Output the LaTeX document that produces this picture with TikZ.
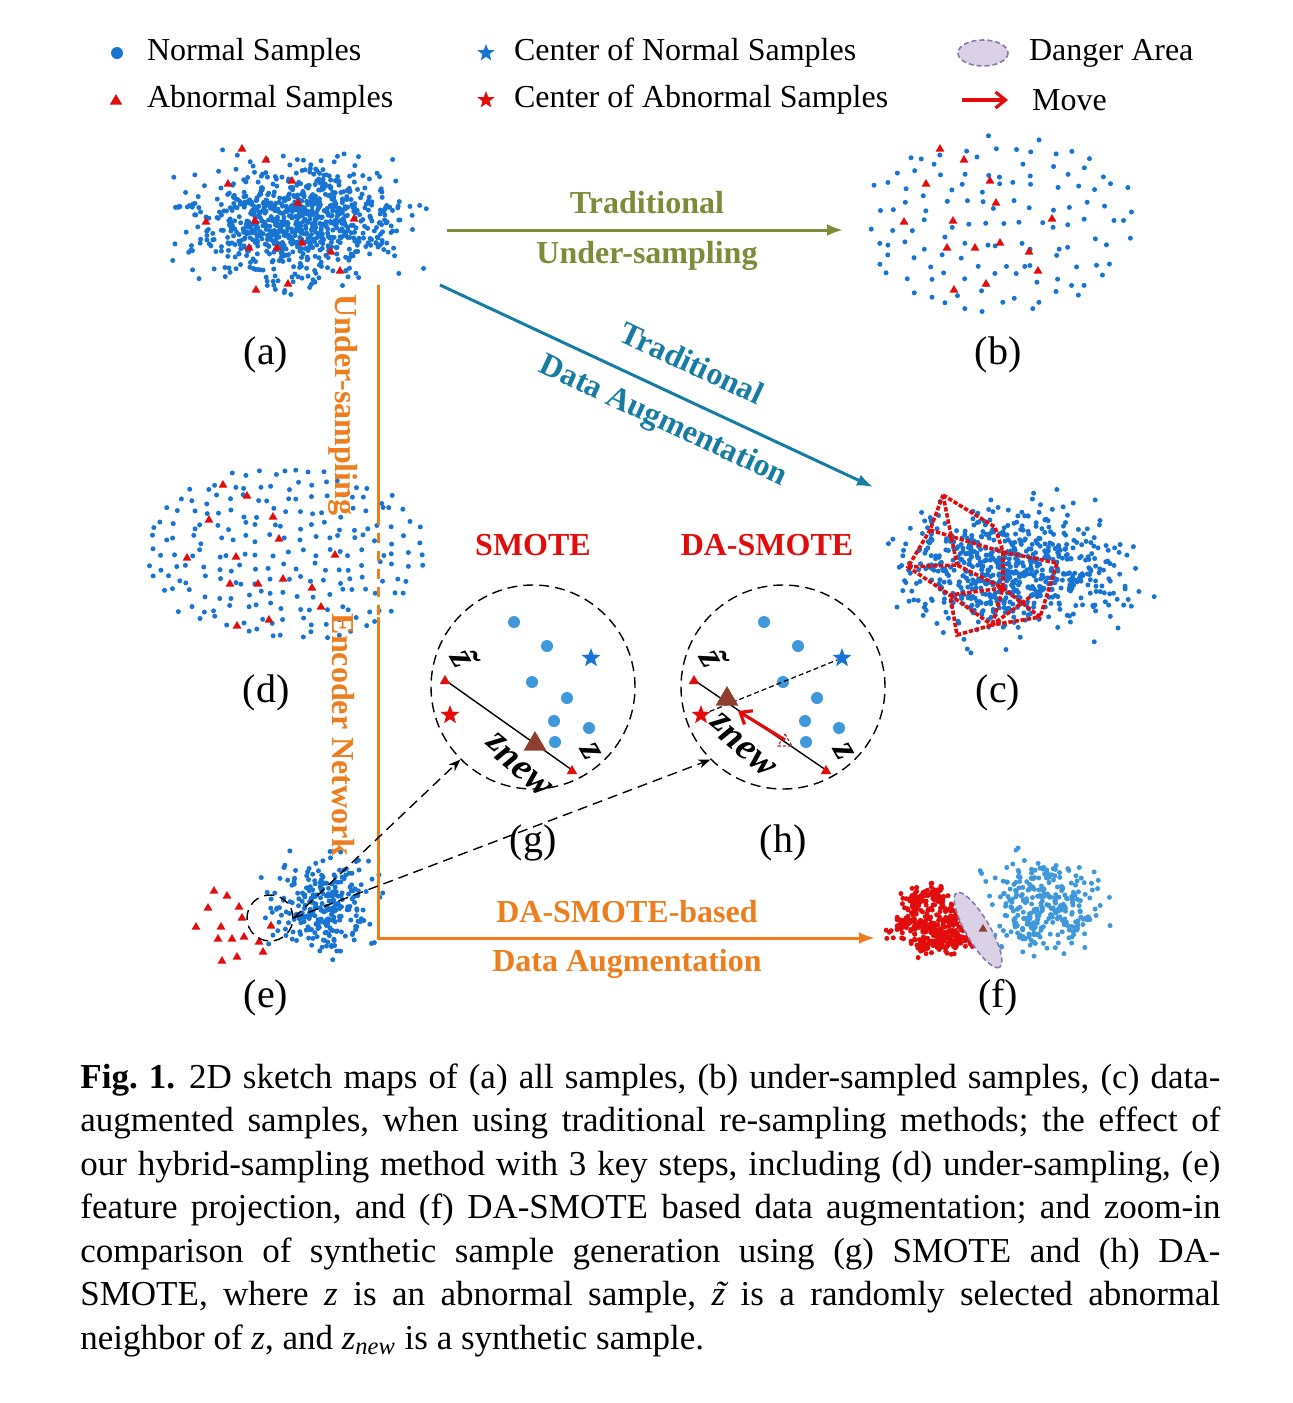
\documentclass[tikz,border=0pt]{standalone}
\usepackage{fontspec}
\setmainfont{Liberation Serif}
\usetikzlibrary{shapes.geometric,arrows.meta,positioning,calc}
\definecolor{nblue}{RGB}{24,116,210}
\definecolor{lblue}{RGB}{62,152,218}
\definecolor{abred}{RGB}{226,12,12}
\definecolor{znbrown}{RGB}{142,62,46}
\definecolor{arolive}{RGB}{124,140,56}
\definecolor{arteal}{RGB}{22,124,162}
\definecolor{arorange}{RGB}{236,126,30}
\definecolor{dgfill}{RGB}{218,209,231}
\definecolor{dgline}{RGB}{138,120,168}

% z with a tilde on top
\newcommand{\ztil}{\ooalign{z\cr\hidewidth\kern0.12em\char"02DC\hidewidth\cr}}
% gaussian-like cloud: cx, cy, sx, sy, count, colour
\newcommand{\gaussblob}[6]{%
  \foreach \k in {1,...,#5}{%
    \pgfmathsetmacro{\gx}{#1+#3*(rand+rand+rand)}%
    \pgfmathsetmacro{\gy}{#2+#4*(rand+rand+rand)}%
    \fill[#6] (\gx,\gy) circle[radius=1.25pt];}}
% sparse cloud, jittered grid cut to an ellipse: cx, cy, rx, ry, spacing, colour
\newcommand{\gridblob}[6]{%
  \foreach \gi in {-12,...,12}{\foreach \gj in {-12,...,12}{%
    \pgfmathsetmacro{\px}{\gi*#5+0.38*#5*rand}%
    \pgfmathsetmacro{\py}{\gj*#5+0.38*#5*rand}%
    \pgfmathtruncatemacro{\inside}{((\px/#3)^2+(\py/#4)^2<1)?1:0}%
    \ifnum\inside=1 \fill[#6] (#1+\px,#2+\py) circle[radius=1.25pt];\fi}}}
% triangle marker: x, y, size, style
\newcommand{\abtri}[4]{%
  \path[#4] (#1,#2) +(0,{-#3}) -- +({0.87*#3},{0.5*#3}) -- +({-0.87*#3},{0.5*#3}) -- cycle;}
% the abnormal samples kept in (a), (b) and (d)
\newcommand{\abnset}[2]{%
  \foreach \ax/\ay in {242/149,266/160,228/184,292/181,298/203,206/222,255/221,
      354/219,249/248,277/248,302/243,331/252,340/271,288/284,256/290}{%
    \abtri{#1+\ax}{#2+\ay}{5}{fill=abred}}}

\begin{document}
\begin{tikzpicture}[x=0.5pt,y=-0.5pt,
    legtxt/.style={anchor=west,font=\fontsize{16}{19}\selectfont},
    panel/.style={font=\fontsize{20}{24}\selectfont},
    boldlab/.style={font=\fontsize{16}{19}\selectfont\bfseries},
    nstar/.style={star,star points=5,star point ratio=2.4,fill=nblue,
                  inner sep=0pt,minimum size=9pt},
    astar/.style={nstar,fill=abred},
    zoomc/.style={circle,draw,dash pattern=on 5pt off 3pt,line width=0.7pt,
                  minimum size=102pt,inner sep=0pt},
    zlab/.style={font=\fontsize{19}{19}\selectfont\bfseries\itshape,inner sep=0pt},
    olarr/.style={-{Latex[length=8pt,width=6pt]},line width=1.5pt,draw=arolive},
    tlarr/.style={-{Latex[length=8pt,width=6pt]},line width=1.5pt,draw=arteal},
    orline/.style={line width=1.5pt,draw=arorange},
    zmarr/.style={-{Stealth[length=6pt,width=4.5pt]},dash pattern=on 5pt off 3pt,line width=0.7pt},
    mvarr/.style={-{Straight Barb[length=5pt,width=8pt]},line width=1.6pt,draw=abred},
    poly/.style={draw=abred,line width=1.8pt,dash pattern=on 2.2pt off 0.9pt},
    dgarea/.style={fill=dgfill,draw=dgline,dash pattern=on 2.5pt off 1.5pt,line width=0.8pt}
  ]
  \useasboundingbox[fill=white] (0,0) rectangle (1293,1403);
  \pgfmathsetseed{4711}

  % legend
  \fill[nblue] (117,53) circle[radius=3pt];
  \node[legtxt] (lgN) at (140,53) {Normal Samples};
  \abtri{116}{101}{7}{fill=abred}
  \node[legtxt] (lgA) at (140,100) {Abnormal Samples};
  \node[nstar] (lgNs) at (486,53) {};
  \node[legtxt] (lgNc) at (507,53) {Center of Normal Samples};
  \node[astar] (lgAs) at (486,100) {};
  \node[legtxt] (lgAc) at (507,100) {Center of Abnormal Samples};
  \path[dgarea] (983,53) ellipse[x radius=25,y radius=13];
  \node[legtxt] (lgD) at (1022,53) {Danger Area};
  \coordinate (mvS) at (962,100);
  \coordinate (mvE) at (1008,100);
  \draw[mvarr] (mvS) -- (mvE);
  \node[legtxt] (lgM) at (1025,100) {Move};

  % (a) all samples
  \gaussblob{298}{222}{48}{27}{900}{nblue}
  \abnset{0}{0}
  \node[panel] (pa) at (266,355) {(a)};

  % (b) under-sampled
  \gridblob{1000}{225}{140}{93}{18}{nblue}
  \abnset{698}{0}
  \node[panel] (pb) at (998,355) {(b)};

  % (d) hybrid under-sampling
  \gridblob{285}{553}{143}{90}{13.5}{nblue}
  \abnset{-19}{336}
  \node[panel] (pd) at (266,693) {(d)};

  % (c) traditional augmentation
  \gaussblob{1008}{568}{50}{29}{700}{nblue}
  \coordinate (cA) at (943,495);  \coordinate (cB) at (995,527);
  \coordinate (cE) at (930,530);  \coordinate (cF) at (908,567);
  \coordinate (cG) at (950,595);  \coordinate (cH) at (957,635);
  \coordinate (cI) at (992,625);  \coordinate (cD) at (1003,588);
  \coordinate (cJ) at (1057,563); \coordinate (cK) at (1040,617);
  \coordinate (cM) at (1003,552); \coordinate (cP) at (957,565);
  \coordinate (cQ) at (1030,597);
  \draw[poly] (cA) -- (cB) -- (cM) -- (cD) -- (cG) -- (cF) -- (cE) -- cycle;
  \draw[poly] (cM) -- (cJ) -- (cK) -- (cD) -- (cI) -- (cH) -- (cG);
  \draw[poly] (cG) -- (cI) -- (cK);
  \draw[poly] (cE) -- (cM);
  \draw[poly] (cF) -- (cP) -- (cD);
  \draw[poly] (cA) -- (cP);
  \draw[poly] (cQ) -- (cI);
  \node[panel] (pc) at (998,693) {(c)};

  % (e) feature projection
  \gaussblob{322}{905}{25}{22}{270}{nblue}
  \foreach \ex/\ey in {214/891,227/896,208/908,239/907,242/918,196/927,221/927,
      271/926,218/939,232/939,244/937,259/942,263/952,222/961,237/957}{%
    \abtri{\ex}{\ey}{5}{fill=abred}}
  \node[zoomc,minimum size=23pt] (ze) at (270,918) {};
  \node[panel] (pe) at (266,998) {(e)};

  % (f) DA-SMOTE augmentation
  \gaussblob{1043}{905}{26}{22}{300}{lblue}
  \foreach \rx/\ry in {913/902,935/897,904/925,928/922,950/918,922/945,945/942,960/938}{%
    \gaussblob{\rx}{\ry}{7}{6}{50}{abred}}
  \path[dgarea,rotate around={-60:(978,930)}] (978,930) ellipse[x radius=43,y radius=12];
  \abtri{983}{929}{5}{fill=znbrown}
  \node[panel] (pf) at (998,998) {(f)};

  % arrows between panels
  \coordinate (olS) at (447,230);
  \coordinate (olE) at (843,230);
  \draw[olarr] (olS) -- (olE);
  \node[boldlab,text=arolive] (olT) at (647,203) {Traditional};
  \node[boldlab,text=arolive] (olU) at (647,256) {Under-sampling};
  \coordinate (tlS) at (440,285);
  \coordinate (tlE) at (873,487);
  \draw[tlarr] (tlS) -- (tlE);
  \node[boldlab,text=arteal,rotate=-25,inner sep=0pt] (tlT) at (692,363) {Traditional};
  \node[boldlab,text=arteal,rotate=-25,inner sep=0pt] (tlD) at (663,422) {Data Augmentation};
  \coordinate (oTop) at (378,285);
  \coordinate (oD1) at (378,515);
  \coordinate (oD2) at (378,617);
  \coordinate (oEnd) at (875,938);
  \draw[orline] (oTop) -- (oD1);
  \draw[orline,dash pattern=on 5pt off 4pt] (oD1) -- (oD2);
  \draw[orline,-{Latex[length=8pt,width=6pt]}] (oD2) |- (oEnd);
  \node[boldlab,text=arorange,rotate=-90] (oU) at (343,405) {Under-sampling};
  \node[boldlab,text=arorange,rotate=-90] (oN) at (343,735) {Encoder Network};
  \node[boldlab,text=arorange] (oS) at (627,912) {DA-SMOTE-based};
  \node[boldlab,text=arorange] (oA) at (627,964) {Data Augmentation};

  % (g) SMOTE zoom-in
  \node[boldlab,text=abred] (tg) at (533,545) {SMOTE};
  \node[zoomc] (zg) at (533,687) {};
  \foreach \bx/\by in {514/622,547/646,532/682,567/698,554/721,589/728,555/742}{%
    \fill[lblue] (\bx,\by) circle[radius=3pt];}
  \node[nstar,minimum size=10pt] (gNs) at (591,658) {};
  \node[astar,minimum size=10pt] (gAs) at (450,715) {};
  \coordinate (gzt) at (445,680);
  \coordinate (gz) at (572,770);
  \draw[line width=0.7pt] (gzt) -- (gz);
  \abtri{445}{681}{6}{fill=abred}
  \abtri{572}{771}{6}{fill=abred}
  \abtri{535}{744}{13}{fill=znbrown}
  \node[zlab,rotate=-60] (gLt) at (461,660) {\ztil};
  \node[zlab,rotate=-40] (gLn) at (519,765) {z\raisebox{-0.3ex}{new}};
  \node[zlab,rotate=-60] (gLz) at (591,752) {z};
  \node[panel] (pg) at (533,843) {(g)};

  % (h) DA-SMOTE zoom-in
  \node[boldlab,text=abred] (th) at (767,545) {DA-SMOTE};
  \node[zoomc] (zh) at (783,687) {};
  \foreach \bx/\by in {764/622,798/646,783/682,817/698,805/721,839/728,806/742}{%
    \fill[lblue] (\bx,\by) circle[radius=3pt];}
  \node[nstar,minimum size=10pt] (hNs) at (842,658) {};
  \node[astar,minimum size=10pt] (hAs) at (701,715) {};
  \draw[line width=0.6pt,dash pattern=on 2.5pt off 1.5pt] (hAs) -- (hNs);
  \coordinate (hzt) at (694,680);
  \coordinate (hz) at (826,770);
  \draw[line width=0.7pt] (hzt) -- (hz);
  \abtri{694}{681}{6}{fill=abred}
  \abtri{826}{771}{6}{fill=abred}
  \abtri{785}{742}{8}{draw=znbrown,line width=0.6pt,dash pattern=on 1.5pt off 1pt}
  \coordinate (mvA) at (785,740);
  \coordinate (mvB) at (738,711);
  \draw[mvarr] (mvA) -- (mvB);
  \abtri{727}{699}{13}{fill=znbrown}
  \node[zlab,rotate=-60] (hLt) at (710,660) {\ztil};
  \node[zlab,rotate=-40] (hLn) at (743,745) {z\raisebox{-0.3ex}{new}};
  \node[zlab,rotate=-60] (hLz) at (844,752) {z};
  \node[panel] (ph) at (783,843) {(h)};

  % zoom-in pointers
  \draw[zmarr] (ze.east) -- (zg.225);
  \draw[zmarr] (ze.east) -- (zh.225);

  % caption
  \node[anchor=north west,inner sep=0pt,text width=570pt,align=justify,
        font=\fontsize{17.5}{21.75}\selectfont\frenchspacing] (cap) at (80,1063) {%
    \textbf{Fig. 1.}\hspace{0.4em}2D sketch maps of (a) all samples, (b) under-sampled samples, (c) data-\linebreak
    augmented samples, when using traditional re-sampling methods; the effect of\linebreak
    our hybrid-sampling method with 3 key steps, including (d) under-sampling, (e)\linebreak
    feature projection, and (f) DA-SMOTE based data augmentation; and zoom-in\linebreak
    comparison of synthetic sample generation using (g) SMOTE and (h) DA-\linebreak
    SMOTE, where \textit{z} is an abnormal sample, \textit{\ztil} is a randomly selected abnormal\linebreak
    neighbor of \textit{z}, and \textit{z}\textsubscript{\textit{new}} is a synthetic sample.};
\end{tikzpicture}
\end{document}
